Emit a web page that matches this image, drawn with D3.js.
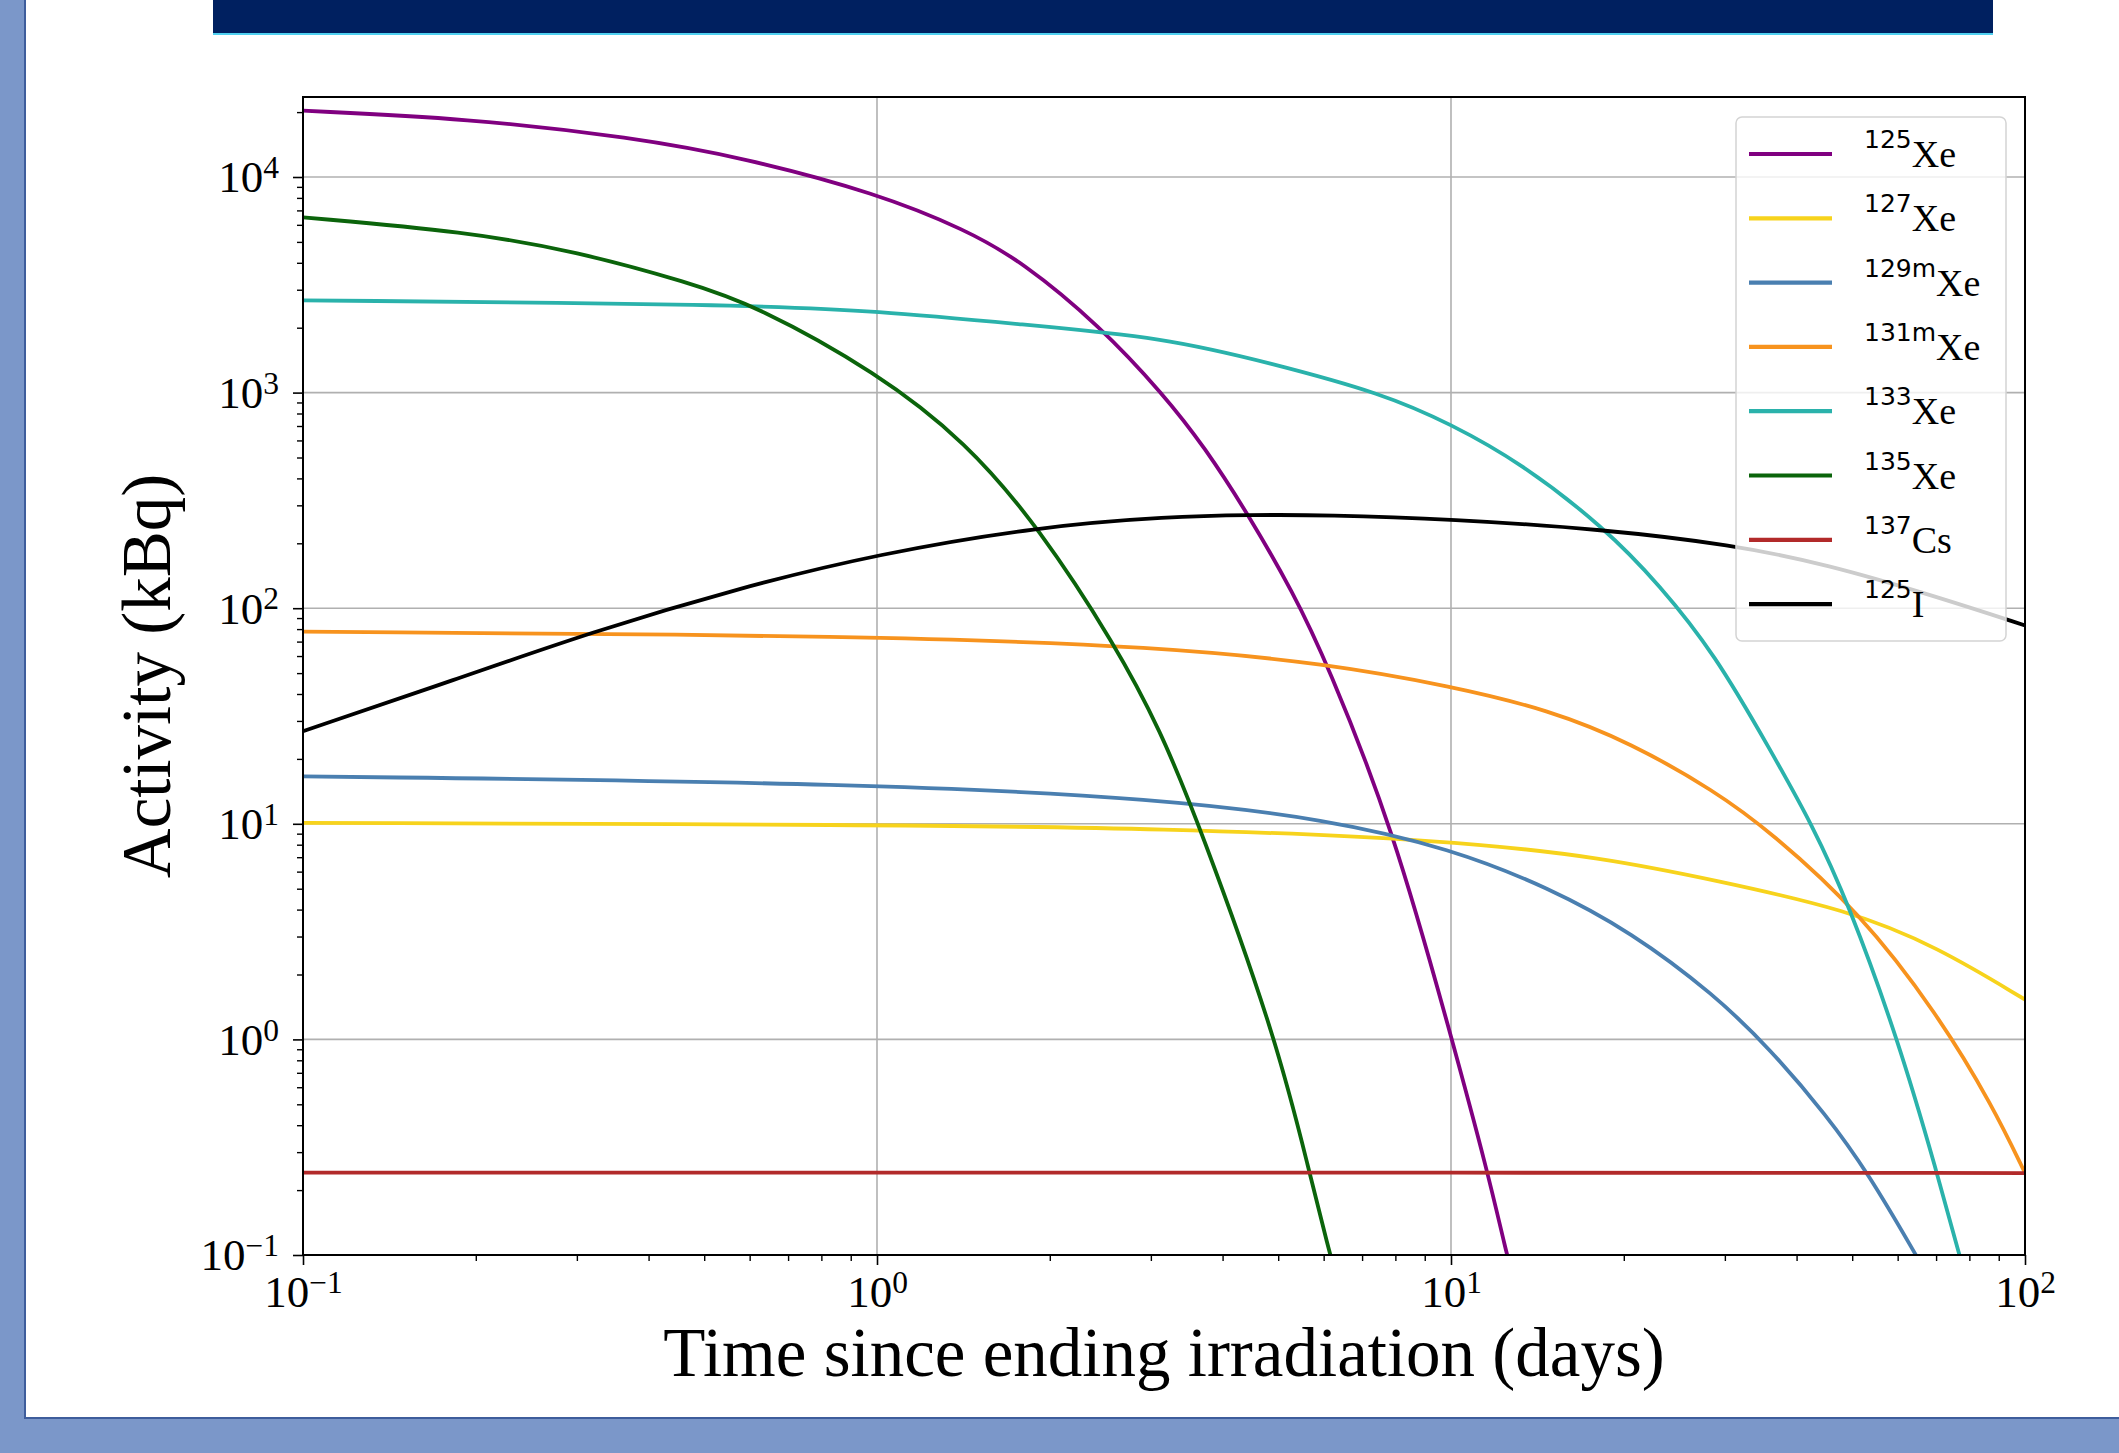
<!DOCTYPE html>
<html>
<head>
<meta charset="utf-8">
<script src="https://cdn.jsdelivr.net/npm/d3@7"></script>
<style>
  body { margin: 0; background: #7b97c9; }
</style>
</head>
<body>
<div class="container"></div>
<script>
// Activity (kBq) vs time since ending irradiation (days)
const xe125 = [[0.1, 20300], [0.193, 18700], [0.376, 15240], [0.586, 12270], [1.0, 8400], [1.43, 5680],
    [1.79, 4050], [2.44, 2050], [3.16, 977], [3.72, 560], [4.45, 268], [5.31, 118], [6.07, 56.5],
    [7.93, 9.5], [10.0, 1.04], [11.6, 0.24], [12.5, 0.101], [12.7, 0.088]]
const xe127 = [[0.1, 10.1], [1.0, 9.9], [3.16, 9.55], [10.0, 8.4], [18.5, 6.95], [28.8, 5.48],
    [49.2, 3.99], [70.3, 2.69], [100, 1.53]]
const xe129m = [[0.1, 16.6], [1.0, 15.4], [3.16, 13.0], [6.07, 10.5], [10.0, 7.67], [14.8, 5.06],
    [20.6, 3.15], [28.8, 1.61], [36.0, 0.90], [45.1, 0.445], [53.3, 0.24], [65.0, 0.097], [66.0, 0.09]]
const xe131m = [[0.1, 77.8], [1.0, 74.6], [3.16, 66], [6.07, 55.3], [10.0, 43.5], [14.8, 33.8],
    [20.6, 23.7], [28.8, 14.2], [36.0, 9.2], [51.5, 3.9], [70.3, 1.32], [87.9, 0.49], [100, 0.24]]
const xe133 = [[0.1, 2680], [0.587, 2560], [1.0, 2390], [1.79, 2070], [3.16, 1800], [4.85, 1370],
    [7.59, 991], [10.0, 714], [13.2, 474], [18.5, 237], [23.1, 128], [28.8, 61.4],
    [36.0, 22], [42.6, 9.9], [49.2, 4.3], [60.1, 1.0], [70.3, 0.24], [76.9, 0.099], [78.0, 0.088]]
const xe135 = [[0.1, 6500], [0.193, 5570], [0.30, 4510], [0.47, 3240], [0.614, 2540], [1.0, 1240],
    [1.43, 590], [1.91, 239], [2.61, 66.5], [3.11, 27.5], [3.65, 9.8], [4.97, 1.0], [5.67, 0.24],
    [6.14, 0.103], [6.25, 0.088]]
const cs137 = [[0.1, 0.241], [1.0, 0.241], [10.0, 0.241], [100, 0.240]]
const i125 = [[0.1, 26.9], [0.185, 46.8], [0.315, 77], [0.587, 126], [1.0, 178], [1.91, 239],
    [3.24, 266], [4.45, 271], [6.07, 271], [10.0, 259], [18.5, 232], [30.8, 197], [45.1, 160],
    [70.3, 113], [100, 83.2]]

const seriesNames = [["125", "Xe"], ["127", "Xe"], ["129m", "Xe"], ["131m", "Xe"],
    ["133", "Xe"], ["135", "Xe"], ["137", "Cs"], ["125", "I"]]
const seriesData = [xe125, xe127, xe129m, xe131m, xe133, xe135, cs137, i125]
const seriesColors = ["#800080", "#f7d31c", "#4a7fb0", "#f7931e", "#2ab2ab", "#0b640b", "#b22a2a", "#000000"]

const xTicks = [0.1, 1, 10, 100]
const yTicks = [0.1, 1, 10, 100, 1000, 10000]

// Page and plot geometry
let outerWidth = 2119
let outerHeight = 1453
let margin = {top: 97, bottom: 198, left: 303, right: 94}
let width = outerWidth - margin.left - margin.right
let height = outerHeight - margin.top - margin.bottom

const root = d3.select(".container")
    .append("svg")
    .attr("width", outerWidth)
    .attr("height", outerHeight)
    .style("display", "block")

// slide background
root.append("rect")
    .attr("x", 25).attr("y", 0)
    .attr("width", outerWidth - 25).attr("height", 1418)
    .attr("fill", "white")
root.append("path")
    .attr("d", `M25,0 V1418 H${outerWidth}`)
    .attr("fill", "none")
    .attr("stroke", "#3e5d9c")
    .attr("stroke-width", 2)
root.append("rect")
    .attr("x", 213).attr("y", 0)
    .attr("width", 1780).attr("height", 34)
    .attr("fill", "#002060")
root.append("rect")
    .attr("x", 213).attr("y", 33)
    .attr("width", 1780).attr("height", 2)
    .attr("fill", "#4fd0f0")

const svg = root.append("g")
    .attr("transform", `translate(${margin.left}, ${margin.top})`)

// Scales
const xScale = d3.scaleLog()
    .domain([0.1, 100])
    .range([0, width])

const yScale = d3.scaleLog()
    .domain([0.1, 23500])
    .range([height, 0])

// Grid lines
svg.append("g")
    .selectAll("line")
    .data(xTicks)
    .join("line")
    .attr("x1", d => xScale(d)).attr("x2", d => xScale(d))
    .attr("y1", 0).attr("y2", height)
    .attr("stroke", "#b0b0b0")
    .attr("stroke-width", 1.6)

svg.append("g")
    .selectAll("line")
    .data(yTicks)
    .join("line")
    .attr("y1", d => yScale(d)).attr("y2", d => yScale(d))
    .attr("x1", 0).attr("x2", width)
    .attr("stroke", "#b0b0b0")
    .attr("stroke-width", 1.6)

// Curves
svg.append("clipPath")
    .attr("id", "plot-clip")
    .append("rect")
    .attr("width", width)
    .attr("height", height)

const line = d3.line()
    .x(d => xScale(d[0]))
    .y(d => yScale(d[1]))
    .curve(d3.curveBasis)

svg.append("g")
    .attr("clip-path", "url(#plot-clip)")
    .selectAll("path")
    .data(seriesData)
    .join("path")
    .attr("d", line)
    .attr("fill", "none")
    .attr("stroke", (d, i) => seriesColors[i])
    .attr("stroke-width", 3.8)
    .attr("stroke-linejoin", "round")

// Minor ticks
const decades = [0.1, 1, 10, 1000, 100, 10000]
const minorX = []
const minorY = []
decades.forEach(d => {
    for (let k = 2; k < 10; k++) {
        if (d <= 10) minorX.push(k * d)
        if (k * d < 23500) minorY.push(k * d)
    }
})

svg.append("g")
    .attr("transform", `translate(0, ${height})`)
    .call(d3.axisBottom(xScale).tickValues(minorX).tickFormat("").tickSize(6).tickSizeOuter(0))
    .call(g => g.select(".domain").remove())
    .call(g => g.selectAll(".tick line").attr("stroke-width", 1.4))

svg.append("g")
    .call(d3.axisLeft(yScale).tickValues(minorY).tickFormat("").tickSize(6).tickSizeOuter(0))
    .call(g => g.select(".domain").remove())
    .call(g => g.selectAll(".tick line").attr("stroke-width", 1.4))

// Major axes with power-of-ten labels
function powerLabel(text) {
    text.each(function(d) {
        const t = d3.select(this).text(null)
        const e = Math.round(Math.log10(d))
        t.append("tspan").text("10")
        t.append("tspan")
            .attr("dy", "-0.45em")
            .attr("font-size", "0.7em")
            .text(e < 0 ? "\u2212" + (-e) : e)
    })
}

const xAxis = d3.axisBottom(xScale)
    .tickValues(xTicks)
    .tickSize(10)
    .tickSizeOuter(0)

const yAxis = d3.axisLeft(yScale)
    .tickValues(yTicks)
    .tickSize(10)
    .tickSizeOuter(0)

svg.append("g")
    .attr("transform", `translate(0, ${height})`)
    .call(xAxis)
    .call(g => g.select(".domain").remove())
    .call(g => g.selectAll(".tick line").attr("stroke-width", 1.6))
    .call(g => g.selectAll(".tick text")
        .attr("y", 52)
        .attr("dy", null)
        .attr("fill", "black")
        .attr("font-family", "Liberation Serif, Times New Roman, serif")
        .attr("font-size", 45)
        .call(powerLabel))

svg.append("g")
    .call(yAxis)
    .call(g => g.select(".domain").remove())
    .call(g => g.selectAll(".tick line").attr("stroke-width", 1.6))
    .call(g => g.selectAll(".tick text")
        .attr("x", -24)
        .attr("dy", "0.33em")
        .attr("fill", "black")
        .attr("font-family", "Liberation Serif, Times New Roman, serif")
        .attr("font-size", 45)
        .call(powerLabel))

// Frame
svg.append("rect")
    .attr("width", width)
    .attr("height", height)
    .attr("fill", "none")
    .attr("stroke", "black")
    .attr("stroke-width", 2)

// Axis titles
svg.append("text")
    .text("Time since ending irradiation (days)")
    .attr("x", width / 2)
    .attr("y", height + 121)
    .attr("text-anchor", "middle")
    .attr("font-family", "Liberation Serif, Times New Roman, serif")
    .attr("font-size", 69)

svg.append("text")
    .text("Activity (kBq)")
    .attr("transform", `translate(${170 - margin.left}, ${height / 2}) rotate(-90)`)
    .attr("text-anchor", "middle")
    .attr("font-family", "Liberation Serif, Times New Roman, serif")
    .attr("font-size", 69)

// Legend
const legend = svg.append("g")
    .attr("transform", `translate(${1736 - margin.left}, ${117 - margin.top})`)

legend.append("rect")
    .attr("width", 270)
    .attr("height", 524)
    .attr("rx", 6)
    .attr("fill", "white")
    .attr("fill-opacity", 0.8)
    .attr("stroke", "#d4d4d4")
    .attr("stroke-width", 1.5)

const entries = legend.selectAll(".entry")
    .data(seriesNames)
    .join("g")
    .attr("class", "entry")
    .attr("transform", (d, i) => `translate(0, ${37 + i * 64.3})`)

entries.append("line")
    .attr("x1", 13).attr("x2", 96)
    .attr("stroke", (d, i) => seriesColors[i])
    .attr("stroke-width", 4.2)

entries.append("text")
    .attr("x", 128)
    .attr("y", 13)
    .call(t => t.append("tspan")
        .attr("dy", -19)
        .attr("font-family", "DejaVu Sans, sans-serif")
        .attr("font-size", 25)
        .text(d => d[0]))
    .call(t => t.append("tspan")
        .attr("dy", 19)
        .attr("font-family", "Liberation Serif, Times New Roman, serif")
        .attr("font-size", 38)
        .text(d => d[1]))
</script>
</body>
</html>
